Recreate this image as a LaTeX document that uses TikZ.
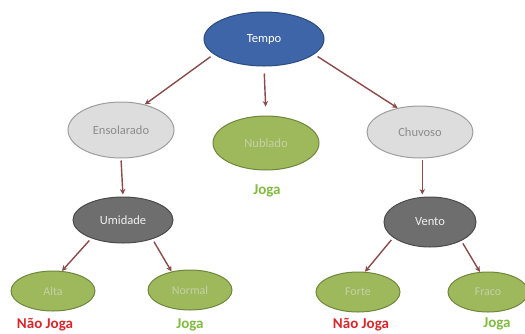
\documentclass[tikz,border=0pt]{standalone}
\usepackage{fontspec}
\setmainfont{Carlito}
\usetikzlibrary{shapes.geometric,arrows.meta}
\definecolor{tblue}{HTML}{3F65A9}
\definecolor{tblueb}{HTML}{2B4A7E}
\definecolor{lgray}{HTML}{DDDDDD}
\definecolor{lgrayb}{HTML}{9E9E9E}
\definecolor{lgrayt}{HTML}{8C8C8C}
\definecolor{olive}{HTML}{9DB95C}
\definecolor{oliveb}{HTML}{6F873C}
\definecolor{olivet}{HTML}{C6D0A6}
\definecolor{dgray}{HTML}{6E6E6E}
\definecolor{dgrayb}{HTML}{4A4A4A}
\definecolor{arr}{HTML}{8B4B4B}
\definecolor{jgreen}{HTML}{80BA3F}
\definecolor{njred}{HTML}{D9262B}
\tikzset{
  base/.style={ellipse, inner sep=0pt, line width=1pt, font=\fontsize{12.5}{15}\selectfont},
  rootnode/.style={base, fill=tblue, draw=tblueb, text=white},
  valnode/.style={base, fill=lgray, draw=lgrayb, text=lgrayt},
  attrnode/.style={base, fill=dgray, draw=dgrayb, text=white!94!black},
  leafnode/.style={base, fill=olive, draw=oliveb, text=olivet, font=\fontsize{12}{14}\selectfont},
  joga/.style={text=jgreen, font=\fontsize{15}{18}\selectfont\bfseries, inner sep=0pt},
  naojoga/.style={text=njred, font=\fontsize{15}{18}\selectfont\bfseries, inner sep=0pt},
  conn/.style={draw=arr, line width=1.4pt, -{Stealth[length=5.5pt,width=5.5pt]}},
}
\begin{document}
\begin{tikzpicture}[x=1pt,y=-1pt]
\useasboundingbox (0,0) rectangle (525,333);
\clip (0,0) rectangle (525,333);
\node[rootnode, minimum width=120pt, minimum height=54pt] (tempo) at (264,39) {Tempo};
\node[valnode, minimum width=106pt, minimum height=56pt] (enso) at (121,130) {Ensolarado};
\node[leafnode, minimum width=106pt, minimum height=54pt, font=\fontsize{12.5}{15}\selectfont] (nub) at (266,143) {Nublado};
\node[valnode, minimum width=106pt, minimum height=52pt] (chuv) at (420,132) {Chuvoso};
\node[attrnode, minimum width=100pt, minimum height=46pt] (umid) at (123,220) {Umidade};
\node[attrnode, minimum width=92pt, minimum height=50pt] (vento) at (430,222) {Vento};
\node[leafnode, minimum width=84pt, minimum height=40pt] (alta) at (53,291) {Alta};
\node[leafnode, minimum width=84pt, minimum height=40pt] (normal) at (190,290) {Normal};
\node[leafnode, minimum width=84pt, minimum height=40pt] (forte) at (358,292) {Forte};
\node[leafnode, minimum width=80pt, minimum height=40pt] (fraco) at (488,292) {Fraco};
\node[joga] (j1) at (267,191) {Joga};
\node[naojoga] (nj1) at (45,325) {Não Joga};
\node[joga] (j2) at (190,325) {Joga};
\node[naojoga] (nj2) at (361,325) {Não Joga};
\node[joga] (j3) at (497,324) {Joga};
\draw[conn, shorten <=4pt] (tempo.197) -- (enso.47);
\draw[conn, shorten <=7pt, shorten >=9pt] (tempo.south) -- (nub.north);
\draw[conn, shorten <=4pt] (tempo.-17) -- (chuv.133);
\draw[conn, shorten <=2pt, shorten >=2pt] (enso.south) -- (umid.north);
\draw[conn, shorten <=2pt, shorten >=2pt] (chuv.-85) -- (chuv.-85 |- vento.north);
\draw[conn, shorten <=3pt] (umid.210) -- (alta.66);
\draw[conn, shorten <=3pt] (umid.-33) -- (normal.135);
\draw[conn, shorten <=3pt] (vento.203) -- (forte.71);
\draw[conn, shorten <=3pt] (vento.-31) -- (fraco.112);
\end{tikzpicture}
\end{document}
